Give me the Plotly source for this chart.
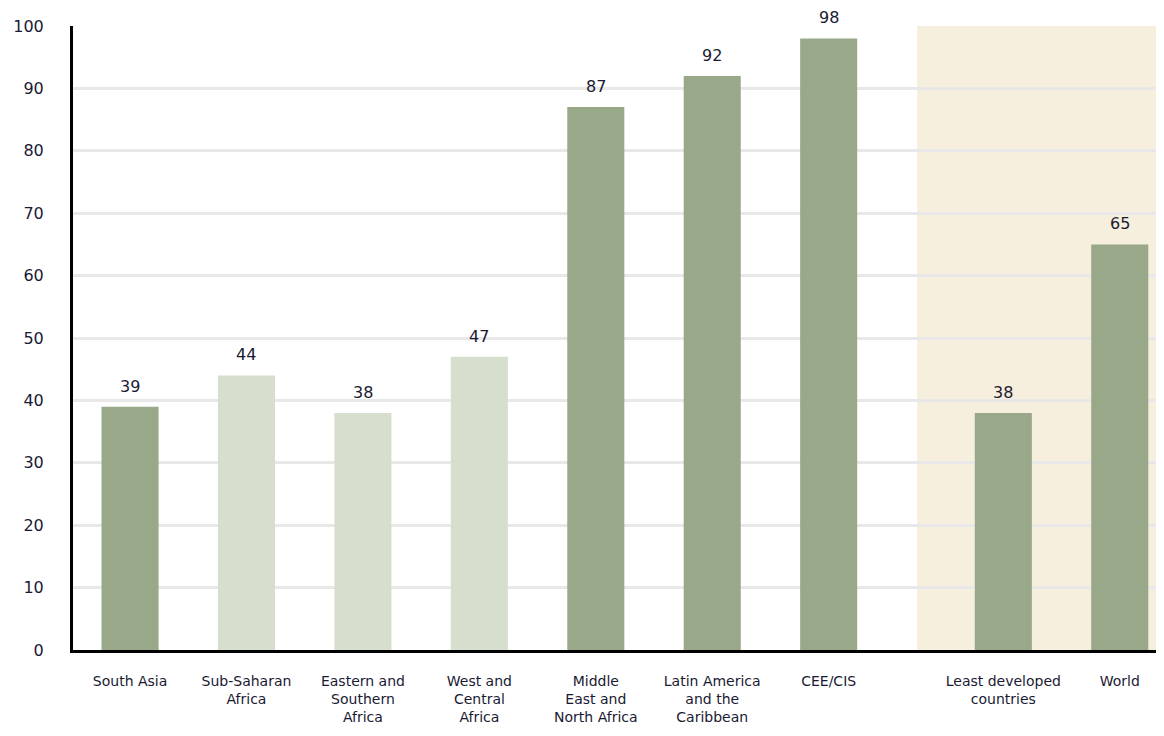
import plotly.graph_objects as go

# dados
regioes = ["South Asia", "Sub-Saharan<br>Africa", "Eastern and<br>Southern<br>Africa",
           "West and<br>Central<br>Africa", "Middle<br>East and<br>North Africa",
           "Latin America<br>and the<br>Caribbean", "CEE/CIS",
           "Least developed<br>countries", "World"]
valores = [39, 44, 38, 47, 87, 92, 98, 38, 65]
posicoes = [0, 1, 2, 3, 4, 5, 6, 7.5, 8.5]
destaque = [True, False, False, False, True, True, True, True, True]
y_ticks = list(range(0, 101, 10))

verde_escuro = "#98a888"
verde_claro = "#d6dfce"
fonte = "DejaVu Sans, sans-serif"
cor_texto = "#1a1a33"

cores = [verde_escuro if d else verde_claro for d in destaque]

fig = go.Figure()

fig.add_trace(go.Bar(
    x=posicoes,
    y=valores,
    marker=dict(color=cores, line=dict(width=0)),
    width=0.49,
    hoverinfo="skip",
))

# rotulos acima das barras
for xp, v in zip(posicoes, valores):
    fig.add_annotation(x=xp, y=v, text=str(v), showarrow=False,
                       yanchor="bottom", yshift=9,
                       font=dict(family=fonte, size=16, color=cor_texto))

# faixa bege atras de LDC e World
fig.add_shape(type="rect", xref="x", yref="paper", x0=6.76, x1=9.5, y0=0, y1=1,
              fillcolor="#f7efdd", line=dict(width=0), layer="below")

# a pagina tem 8px de margem no body -> figura menor para nao rolar
fig.update_layout(
    width=1156, height=720,
    margin=dict(l=65, r=0, t=18, b=78),
    plot_bgcolor="white", paper_bgcolor="white",
    showlegend=False,
    font=dict(family=fonte, size=14, color=cor_texto),
    xaxis=dict(
        range=[-0.49, 8.88],
        tickvals=posicoes, ticktext=regioes,
        showgrid=False, zeroline=False,
        showline=True, linecolor="black", linewidth=3,
        ticks="outside", ticklen=16, tickcolor="rgba(0,0,0,0)",
        tickfont=dict(size=14), automargin=False,
    ),
    yaxis=dict(
        range=[0, 100],
        tickvals=y_ticks,
        showgrid=True, gridcolor="#e8e8e8", gridwidth=3,
        zeroline=False,
        showline=True, linecolor="black", linewidth=3,
        ticks="outside", ticklen=23, tickcolor="rgba(0,0,0,0)",
        tickfont=dict(size=16), automargin=False,
    ),
)

fig.write_html("out.html")
